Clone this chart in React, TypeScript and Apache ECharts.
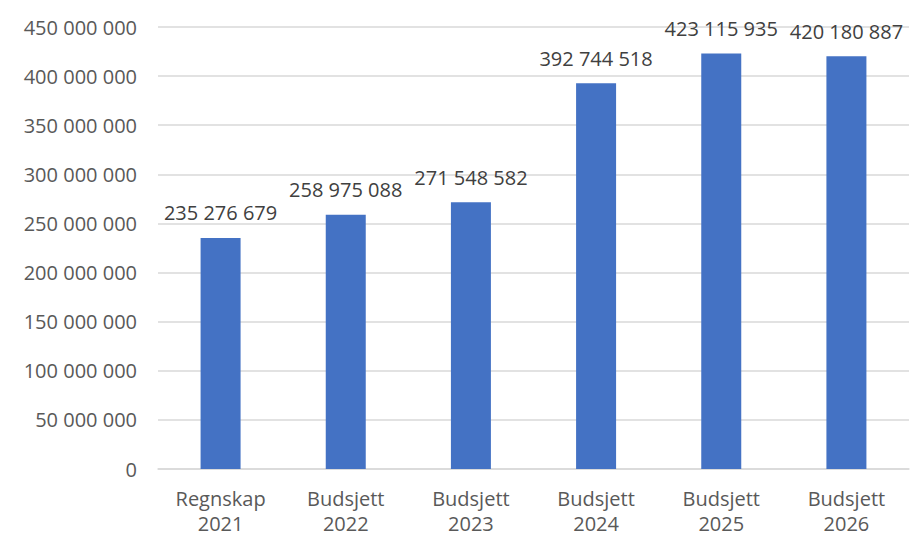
import React, { useEffect, useRef } from "react";
import * as echarts from "echarts";

const categories = ["Regnskap\n2021", "Budsjett\n2022", "Budsjett\n2023", "Budsjett\n2024", "Budsjett\n2025", "Budsjett\n2026"];
const values = [235276679, 258975088, 271548582, 392744518, 423115935, 420180887];
const yMin = 0;
const yMax = 450000000;
const yInterval = 50000000;

const fmt = (v: number) => String(Math.round(v)).replace(/\B(?=(\d{3})+(?!\d))/g, " ");

export default function App() {
  const ref = useRef<HTMLDivElement>(null);
  useEffect(() => {
    if (!ref.current) return;
    const chart = echarts.init(ref.current, undefined, { renderer: "svg" });
    const font = "'Open Sans', 'Noto Sans', sans-serif";
    chart.setOption({
      animation: false,
      backgroundColor: "#ffffff",
      grid: { left: 158, right: 1, top: 27, bottom: 64, containLabel: false },
      xAxis: {
        type: "category",
        data: categories,
        axisLine: { show: true, lineStyle: { color: "#d9d9d9", width: 1.5 } },
        axisTick: { show: false },
        axisLabel: {
          color: "#595959",
          fontFamily: font,
          fontSize: 20,
          lineHeight: 25,
          margin: 17,
          interval: 0,
        },
      },
      yAxis: {
        type: "value",
        min: yMin,
        max: yMax,
        interval: yInterval,
        axisLine: { show: false },
        axisTick: { show: false },
        splitLine: { lineStyle: { color: "#d9d9d9", width: 1.5 } },
        axisLabel: {
          color: "#595959",
          fontFamily: font,
          fontSize: 20,
          margin: 21,
          formatter: (v: number) => fmt(v),
        },
      },
      series: [
        {
          type: "bar",
          data: values,
          barWidth: 40,
          itemStyle: { color: "#4472C4" },
          label: {
            show: true,
            position: "top",
            distance: 15,
            color: "#404040",
            fontFamily: font,
            fontSize: 20,
            formatter: (p: any) => fmt(p.value),
          },
        },
      ],
    });
    return () => chart.dispose();
  }, []);
  return <div ref={ref} style={{ position: "fixed", left: 0, top: 0, width: 910, height: 536 }} />;
}
